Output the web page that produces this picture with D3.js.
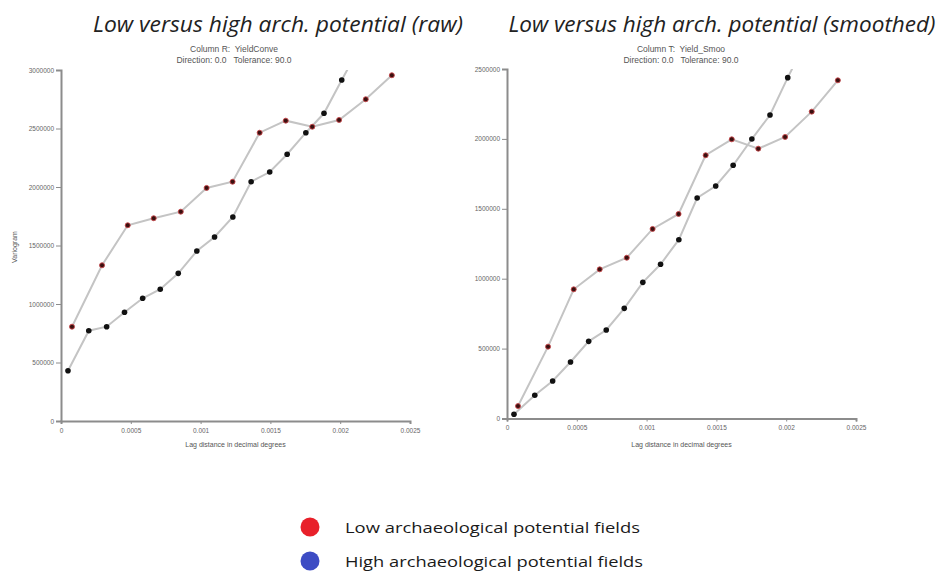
<!DOCTYPE html>
<html>
<head>
<meta charset="utf-8">
<script src="https://cdn.jsdelivr.net/npm/d3@7"></script>
<style>
    body { margin: 0; background: #fff; }
    svg { display: block; }
    .title { font-family: "Open Sans", sans-serif; font-style: italic; fill: #222; }
    .small { font-family: "Liberation Sans", Arial, sans-serif; fill: #555; white-space: pre; }
    .axis path, .axis line { stroke: #8c8c8c; }
    .axis text { font-family: "Liberation Sans", Arial, sans-serif; fill: #666; font-size: 6.5px; }
    .link { fill: none; stroke: #c4c4c4; stroke-width: 2; }
    .legend { font-family: "Open Sans", sans-serif; fill: #1a1a1a; }
</style>
</head>
<body>
<div id="chart"></div>
<script>
// lag distances (decimal degrees), shared by both panels
var lagLow = [0.0000788, 0.000294, 0.000478, 0.000664, 0.000858, 0.001043, 0.001229,
    0.001423, 0.00161, 0.0018, 0.001992, 0.002183, 0.00237];
var lagHigh = [0.00005, 0.000199, 0.000327, 0.000455, 0.000585, 0.000711, 0.00084,
    0.000973, 0.0011, 0.001231, 0.001362, 0.001495, 0.00162, 0.001754, 0.001884,
    0.002011, 0.002142];

// raw variogram
var rawLow = [806000, 1331000, 1673000, 1733000, 1789000, 1992000, 2045000,
    2464000, 2567000, 2515000, 2573000, 2750000, 2955000];
var rawHigh = [430000, 772000, 806000, 929000, 1049000, 1126000, 1262000,
    1453000, 1573000, 1744000, 2045000, 2128000, 2280000, 2464000, 2630000,
    2915000, 3200000];

// smoothed variogram
var smoothLow = [89000, 514000, 924000, 1067000, 1150000, 1356000, 1463000,
    1883000, 1997000, 1930000, 2014000, 2195000, 2419000];
var smoothHigh = [30000, 166000, 268000, 404000, 552000, 633000, 788000,
    974000, 1103000, 1279000, 1577000, 1663000, 1811000, 1999000, 2171000,
    2438000, 2700000];

var xTicks = [0, 0.0005, 0.001, 0.0015, 0.002, 0.0025];
var yTicksRaw = [0, 500000, 1000000, 1500000, 2000000, 2500000, 3000000];
var yTicksSmooth = [0, 500000, 1000000, 1500000, 2000000, 2500000];

var legendLabels = ['Low archaeological potential fields', 'High archaeological potential fields'];
var legendColors = ['#e8202a', '#3d4cc4'];

var w = 946, h = 572;
var svg = d3.select('#chart')
    .append('svg')
    .attr('width', w)
    .attr('height', h);

function zip(xs, ys) {
    return xs.map(function (x, i) {
        return { x: x, y: ys[i] };
    });
}

function drawPanel(p) {
    var x = d3.scaleLinear().domain([0, 0.0025]).range([p.left, p.right]);
    var y = d3.scaleLinear().domain([0, p.yMax]).range([p.bottom, p.top]);
    var g = svg.append('g');

    g.append('text')
        .attr('class', 'title')
        .attr('x', p.titleX).attr('y', 32)
        .attr('text-anchor', 'middle')
        .attr('font-size', 21)
        .attr('textLength', p.titleW)
        .attr('lengthAdjust', 'spacingAndGlyphs')
        .text(p.title);
    g.append('text')
        .attr('class', 'small')
        .attr('x', p.subX).attr('y', 52)
        .attr('text-anchor', 'middle')
        .attr('font-size', 8.5)
        .text(p.column);
    g.append('text')
        .attr('class', 'small')
        .attr('x', p.subX).attr('y', 63)
        .attr('text-anchor', 'middle')
        .attr('font-size', 8.5)
        .text('Direction: 0.0   Tolerance: 90.0');

    var xAxis = d3.axisBottom(x)
        .tickValues(xTicks)
        .tickSize(3)
        .tickFormat(function (d) { return String(d); });
    g.append('g')
        .attr('class', 'axis')
        .attr('transform', 'translate(0,' + p.bottom + ')')
        .call(xAxis)
        .call(function (s) {
            s.select('.domain').attr('stroke-width', 2);
            s.selectAll('text').attr('dy', '0.9em');
        });

    var yAxis = d3.axisLeft(y)
        .tickValues(p.yTicks)
        .tickSize(5)
        .tickFormat(d3.format('d'));
    g.append('g')
        .attr('class', 'axis')
        .attr('transform', 'translate(' + p.left + ',0)')
        .call(yAxis)
        .call(function (s) {
            s.select('.domain').attr('stroke-width', 2);
            s.selectAll('text').attr('x', -7);
        });

    g.append('text')
        .attr('class', 'small')
        .attr('x', (p.left + p.right) / 2).attr('y', 447)
        .attr('text-anchor', 'middle')
        .attr('font-size', 7)
        .text('Lag distance in decimal degrees');

    if (p.yLabel)
        g.append('text')
            .attr('class', 'small')
            .attr('transform', 'translate(17,247) rotate(-90)')
            .attr('text-anchor', 'middle')
            .attr('font-size', 7)
            .text(p.yLabel);

    var clipId = 'clip-' + p.id;
    svg.append('clipPath')
        .attr('id', clipId)
        .append('rect')
        .attr('x', p.left).attr('y', p.top)
        .attr('width', p.right - p.left + 10)
        .attr('height', p.bottom - p.top);

    var line = d3.line()
        .x(function (d) { return x(d.x); })
        .y(function (d) { return y(d.y); });

    var plot = g.append('g').attr('clip-path', 'url(#' + clipId + ')');
    [p.low, p.high].forEach(function (pts) {
        plot.append('path')
            .attr('class', 'link')
            .attr('d', line(pts));
    });

    plot.selectAll('.high')
        .data(p.high)
        .enter()
        .append('circle')
        .attr('class', 'high')
        .attr('cx', function (d) { return x(d.x); })
        .attr('cy', function (d) { return y(d.y); })
        .attr('r', 2.8)
        .attr('fill', '#111');

    plot.selectAll('.low')
        .data(p.low)
        .enter()
        .append('circle')
        .attr('class', 'low')
        .attr('cx', function (d) { return x(d.x); })
        .attr('cy', function (d) { return y(d.y); })
        .attr('r', 2.5)
        .attr('fill', '#3a1010')
        .attr('stroke', '#c8464a')
        .attr('stroke-width', 0.9);
}

drawPanel({
    id: 'raw',
    title: 'Low versus high arch. potential (raw)',
    titleX: 278, titleW: 370,
    column: 'Column R:  YieldConve',
    subX: 234,
    yLabel: 'Variogram',
    left: 61, right: 410, top: 70, bottom: 421,
    yMax: 3000000, yTicks: yTicksRaw,
    low: zip(lagLow, rawLow),
    high: zip(lagHigh, rawHigh)
});

drawPanel({
    id: 'smooth',
    title: 'Low versus high arch. potential (smoothed)',
    titleX: 722, titleW: 427,
    column: 'Column T:  Yield_Smoo',
    subX: 681,
    left: 507, right: 856, top: 69, bottom: 418.5,
    yMax: 2500000, yTicks: yTicksSmooth,
    low: zip(lagLow, smoothLow),
    high: zip(lagHigh, smoothHigh)
});

// legend
var legend = svg.append('g').selectAll('g')
    .data(legendLabels)
    .enter()
    .append('g')
    .attr('transform', function (d, i) {
        return 'translate(310,' + (527 + i * 34) + ')';
    });
legend.append('circle')
    .attr('r', 9.5)
    .attr('fill', function (d, i) { return legendColors[i]; });
legend.append('text')
    .attr('class', 'legend')
    .attr('x', 35).attr('y', 6)
    .attr('font-size', 15)
    .attr('textLength', function (d, i) { return i ? 298 : 295; })
    .attr('lengthAdjust', 'spacingAndGlyphs')
    .text(function (d) { return d; });
</script>
</body>
</html>
